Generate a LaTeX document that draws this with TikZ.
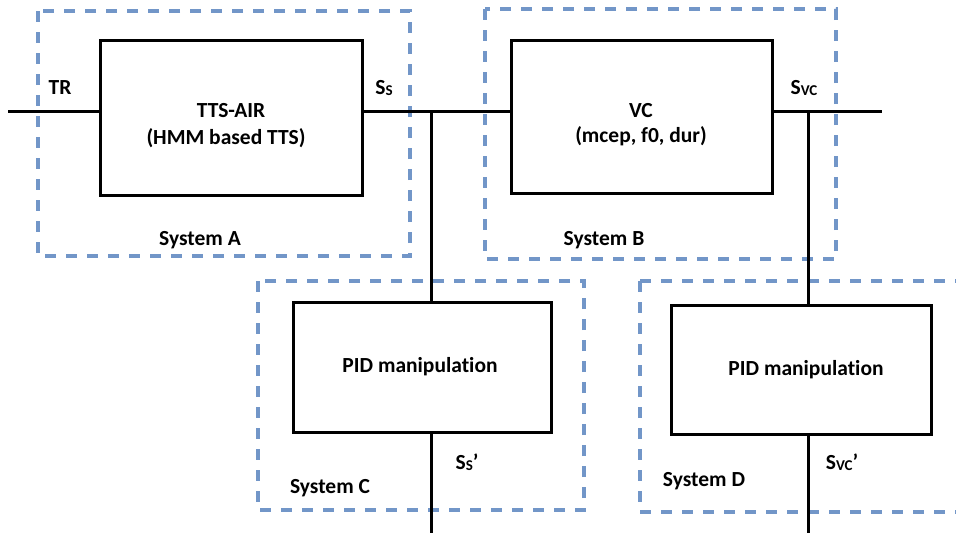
\documentclass[tikz,border=0pt]{standalone}
\usepackage{fontspec}
\setmainfont[Ligatures=NoCommon]{Carlito}
\definecolor{dashblue}{RGB}{114,150,200}
\newcommand{\subcap}[1]{\raisebox{-1.5pt}{\fontsize{15}{17}\selectfont #1}}
\begin{document}
\begin{tikzpicture}[x=1pt,y=-1pt,
  blk/.style={draw=black,line width=3pt,fill=none},
  sysbox/.style={draw=dashblue,line width=3.5pt,dash pattern=on 11pt off 10pt},
  wire/.style={draw=black,line width=3pt},
  lbl/.style={font=\bfseries\fontsize{21.5}{25}\selectfont,align=center,inner sep=0pt},
  slbl/.style={font=\bfseries\fontsize{21.5}{25}\selectfont,inner sep=0pt}]
\useasboundingbox (0,0) rectangle (956,536);
% dashed system boxes
\draw[sysbox] (38,11) rectangle (410,256);
\draw[sysbox] (485,9) rectangle (836,259);
\draw[sysbox] (258,281) rectangle (584,510);
\draw[sysbox] (640,281) -- (960,281);
\draw[sysbox] (640,281) -- (640,512) -- (960,512);
% blocks
\node[blk,minimum width=262pt,minimum height=155pt] (tts) at (231,117.5) {};
\node[blk,minimum width=261pt,minimum height=153pt] (vc) at (641.5,116.5) {};
\node[blk,minimum width=258pt,minimum height=130pt] (pidc) at (422,367) {};
\node[blk,minimum width=260pt,minimum height=129pt] (pidd) at (801,369.5) {};
% texts in blocks
\node[lbl] at (231,111) {TTS-AIR};
\node[lbl] at (226,138) {(HMM based TTS)};
\node[lbl] at (641,111) {VC};
\node[lbl] at (641,136) {(mcep, f0, dur)};
\node[lbl] at (420,367) {PID manipulation};
\node[lbl] at (806,370) {PID manipulation};
% coordinates
\coordinate (in) at (8,111);
\coordinate (out) at (882,111);
\coordinate (jc) at (431,111);
\coordinate (jd) at (808,111);
\coordinate (endc) at (431,533);
\coordinate (endd) at (808,533);
% wires
\draw[wire] (in) -- (tts.west |- in);
\draw[wire] (tts.east |- in) -- (vc.west |- in);
\draw[wire] (vc.east |- in) -- (out);
\draw[wire] (jc) -- (jc |- pidc.north);
\draw[wire] (jd) -- (jd |- pidd.north);
\draw[wire] (jc |- pidc.south) -- (endc);
\draw[wire] (jd |- pidd.south) -- (endd);
% signal labels
\node[slbl] at (60,88) {TR};
\node[slbl] at (384,88) {S\subcap{S}};
\node[slbl] at (804,88) {S\subcap{VC}};
\node[slbl] at (467,462) {S\subcap{S}’};
\node[slbl] at (842,462) {S\subcap{VC}’};
% system labels
\node[slbl] at (200,240) {System A};
\node[slbl] at (604,240) {System B};
\node[slbl] at (330,488) {System C};
\node[slbl] at (704,481) {System D};
\end{tikzpicture}
\end{document}
